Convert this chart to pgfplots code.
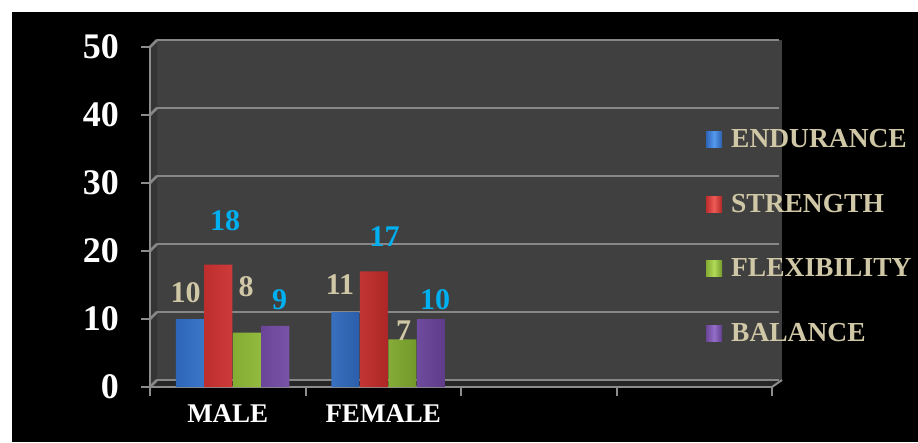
\documentclass[border=0pt]{standalone}
\usepackage{pgfplots}
\pgfplotsset{compat=1.18}
\usepackage{pgfplotstable}
\usepackage{fontspec}
\setmainfont{Liberation Serif}
\definecolor{wallc}{HTML}{404040}
\definecolor{sidec}{HTML}{353535}
\definecolor{floorc}{HTML}{262626}
\definecolor{gridc}{HTML}{878787}
\definecolor{axc}{HTML}{8C8C8C}
\definecolor{beige}{HTML}{CFC7A5}
\definecolor{lblue}{HTML}{00B0F0}
\definecolor{bL}{HTML}{2E66B8}\definecolor{bM}{HTML}{5599EE}\definecolor{bR}{HTML}{2B5EAA}
\definecolor{rL}{HTML}{BE2E2E}\definecolor{rM}{HTML}{EE5A56}\definecolor{rR}{HTML}{AE2626}
\definecolor{gL}{HTML}{84AC33}\definecolor{gM}{HTML}{B0DA58}\definecolor{gR}{HTML}{72982A}
\definecolor{pL}{HTML}{6B4698}\definecolor{pM}{HTML}{946EC8}\definecolor{pR}{HTML}{5E3C8A}

\pgfplotstableread{
x y dx dy
0 10 -42.25 26
1 11 -43.25 28
}\tEnd
\pgfplotstableread{
x y dx dy
0 18 -2.75 44
1 17 1.25 35
}\tStr
\pgfplotstableread{
x y dx dy
0 8 18.25 45.6
1 7 20.25 9
}\tFlex
\pgfplotstableread{
x y dx dy
0 9 51.75 26
1 10 51.75 19.5
}\tBal

\pgfplotsset{
  barlbl/.style={
    nodes near coords,
    visualization depends on={\thisrow{dx}\as\dx},
    visualization depends on={\thisrow{dy}\as\dy},
    every node near coord/.append style={anchor=center, inner sep=0pt, xshift=\dx pt, yshift=\dy pt, text=#1,
      font=\bfseries\fontsize{30}{30}\selectfont},
  },
}

\begin{document}
\begin{tikzpicture}
\begin{scope}[x=1pt,y=1pt]
\fill[white] (0,0) rectangle (918,442);
\fill[black] (12,0) rectangle (918,430);
\fill[wallc] (157,62) rectangle (782,402);
\fill[sidec] (150,55) -- (157,62) -- (157,402) -- (150,395) -- cycle;
\fill[floorc] (150,55) -- (772,55) -- (782,62) -- (157,62) -- cycle;
\foreach \k in {0,...,5} {\draw[gridc, line width=2.5pt] (150,55+68*\k) -- (157,62+68*\k);}
\draw[axc, line width=2pt] (772,55) -- (782,62);
\end{scope}
\begin{axis}[
  at={(150pt,55pt)}, anchor=south west,
  scale only axis, width=622pt, height=340pt,
  xmin=-0.5, xmax=3.5, ymin=0, ymax=50,
  axis x line*=bottom, axis y line*=left,
  axis line style={-, draw=axc, line width=2pt},
  every inner x axis line/.append style={-},
  every outer x axis line/.append style={-},
  every inner y axis line/.append style={-},
  every outer y axis line/.append style={-},
  /pgf/number format/assume math mode=true,
  ytick={0,10,20,30,40,50},
  xtick={-0.5,0.5,1.5,2.5,3.5}, xticklabels={,,,,},
  extra x ticks={0,1}, extra x tick labels={MALE,FEMALE},
  extra x tick style={major tick length=0pt, xticklabel style={yshift=-14pt}},
  tick align=outside, major tick length=9pt,
  tick style={draw=axc, line width=2pt},
  yticklabel style={text=white, font=\bfseries\fontsize{36}{36}\selectfont, inner sep=0pt, xshift=-22pt},
  xticklabel style={text=white, font=\bfseries\fontsize{27}{27}\selectfont},
  ymajorgrids,
  grid style={draw=gridc, line width=2.5pt, xshift=7pt, yshift=7pt},
  legend image code/.code={\fill[#1,draw=none] (0pt,-8pt) rectangle (16pt,8pt);},
  legend style={draw=none, fill=none, at={(0.889,0.443)}, anchor=west,
    font=\bfseries\fontsize{27.5}{27.5}\selectfont, text=beige, row sep=45pt, column sep=9pt,
    nodes={inner sep=0pt}},
  legend cell align=left,
]
\addplot[ybar, bar width=28pt, bar shift=-38pt, draw=none, left color=bL, right color=bR, middle color=bM, barlbl=beige] table[x=x,y=y] {\tEnd};
\addlegendentry{ENDURANCE}
\addplot[ybar, bar width=28pt, bar shift=-9.5pt, draw=none, left color=rL, right color=rR, middle color=rM, barlbl=lblue] table[x=x,y=y] {\tStr};
\addlegendentry{STRENGTH}
\addplot[ybar, bar width=28pt, bar shift=19pt, draw=none, left color=gL, right color=gR, middle color=gM, barlbl=beige] table[x=x,y=y] {\tFlex};
\addlegendentry{FLEXIBILITY}
\addplot[ybar, bar width=28pt, bar shift=47.5pt, draw=none, left color=pL, right color=pR, middle color=pM, barlbl=lblue] table[x=x,y=y] {\tBal};
\addlegendentry{BALANCE}
\end{axis}
\end{tikzpicture}
\end{document}
